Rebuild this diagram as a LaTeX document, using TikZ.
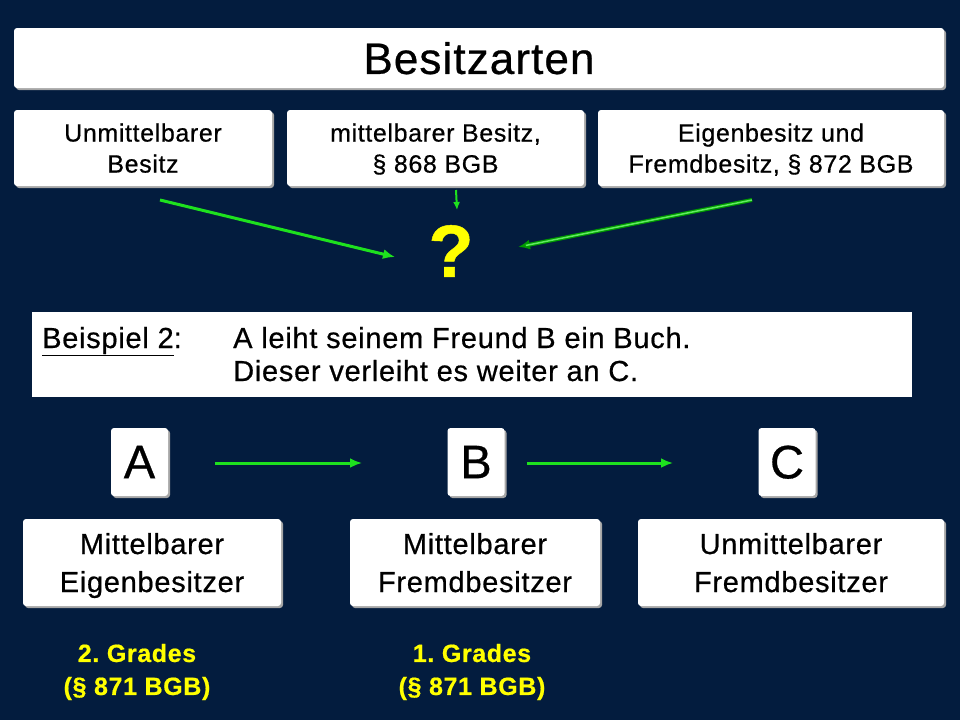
\documentclass[tikz,border=0pt]{standalone}
\usepackage{fontspec}
\setmainfont[LetterSpace=2.5,FakeBold=0.6]{Liberation Sans}
\usetikzlibrary{arrows.meta,shadows}
\definecolor{navy}{RGB}{3,28,62}
\definecolor{arrgreen}{RGB}{30,225,30}
\definecolor{gelb}{RGB}{255,255,0}
\tikzset{
  box/.style={fill=white, rounded corners=3pt, inner sep=0pt, align=center, text depth=0pt,
    drop shadow={shadow xshift=2pt, shadow yshift=-2pt, fill=gray!70, opacity=1}},
  garrow/.style={draw=arrgreen, line width=3pt, -{Latex[length=12pt,width=10pt]}},
  gradtext/.style={text=gelb, font=\bfseries\fontsize{25}{33}\selectfont, align=center}
}
\frenchspacing
\begin{document}
\begin{tikzpicture}[x=1pt,y=-1pt]
\fill[navy] (0,0) rectangle (960,720);
\useasboundingbox (0,0) rectangle (960,720);

% Kopfzeile
\node[box, minimum width=930pt, minimum height=60pt, font=\fontsize{44}{50}\selectfont] (titel) at (479,58) {Besitzarten};

% drei Besitzarten
\node[box, minimum width=258pt, minimum height=76pt, font=\fontsize{25}{31}\selectfont] (unm) at (143,148) {Unmittelbarer\\Besitz};
\node[box, minimum width=297pt, minimum height=76pt, font=\fontsize{25}{31}\selectfont] (mit) at (435.5,148) {mittelbarer Besitz,\\§ 868 BGB};
\node[box, minimum width=346pt, minimum height=76pt, font=\fontsize{25}{31}\selectfont] (eig) at (771,148) {Eigenbesitz und\\Fremdbesitz, § 872 BGB};

\node[text=gelb, font=\bfseries\fontsize{74}{74}\selectfont] (frage) at (451,251) {?};

\coordinate (u1) at (160,200);
\coordinate (u2) at (395,257);
\coordinate (m1) at (456,190);
\coordinate (m2) at (457,210);
\coordinate (e1) at (752,200);
\coordinate (e2) at (518,247);
\draw[garrow] (u1) -- (u2);
\draw[garrow, line width=2pt, -{Latex[length=8pt,width=7pt]}] (m1) -- (m2);
\draw[garrow, draw=green!60!black, line width=4pt] (e1) -- (e2);
\draw[draw=arrgreen!70!white, line width=1.5pt, shorten >=8pt] (e1) -- (e2);

% Beispiel
\node[fill=white, inner sep=0pt, minimum width=880pt, minimum height=85pt] (bsp) at (472,354.5) {};
\node[anchor=base west, inner sep=0pt, font=\fontsize{29}{34}\selectfont] (bsp1) at (42,348) {\underline{Beispiel 2}:};
\node[anchor=base west, inner sep=0pt, font=\fontsize{29}{34}\selectfont] (bsp2) at (233,348) {A leiht seinem Freund B ein Buch.};
\node[anchor=base west, inner sep=0pt, font=\fontsize{29}{34}\selectfont] (bsp3) at (233,381) {Dieser verleiht es weiter an C.};

% Personen
\node[box, minimum width=57pt, minimum height=68pt, font=\fontsize{47}{50}\selectfont] (a) at (139.5,462) {A};
\node[box, minimum width=57pt, minimum height=68pt, font=\fontsize{47}{50}\selectfont] (b) at (476,462) {B};
\node[box, minimum width=57pt, minimum height=68pt, font=\fontsize{47}{50}\selectfont] (c) at (787,462) {C};
\coordinate (ab1) at (215,463);
\coordinate (ab2) at (362,463);
\coordinate (bc1) at (527,463);
\coordinate (bc2) at (673,463);
\draw[garrow] (ab1) -- (ab2);
\draw[garrow] (bc1) -- (bc2);

% Besitzer
\node[box, minimum width=258pt, minimum height=87pt, font=\fontsize{29}{38}\selectfont] (ma) at (152,562.5) {Mittelbarer\\Eigenbesitzer};
\node[box, minimum width=250pt, minimum height=87pt, font=\fontsize{29}{38}\selectfont] (mb) at (475,562.5) {Mittelbarer\\Fremdbesitzer};
\node[box, minimum width=306pt, minimum height=87pt, font=\fontsize{29}{38}\selectfont] (mc) at (791,562.5) {Unmittelbarer\\Fremdbesitzer};

\node[gradtext] (ga) at (137,672) {2. Grades\\(§ 871 BGB)};
\node[gradtext] (gb) at (472,672) {1. Grades\\(§ 871 BGB)};
\end{tikzpicture}
\end{document}
